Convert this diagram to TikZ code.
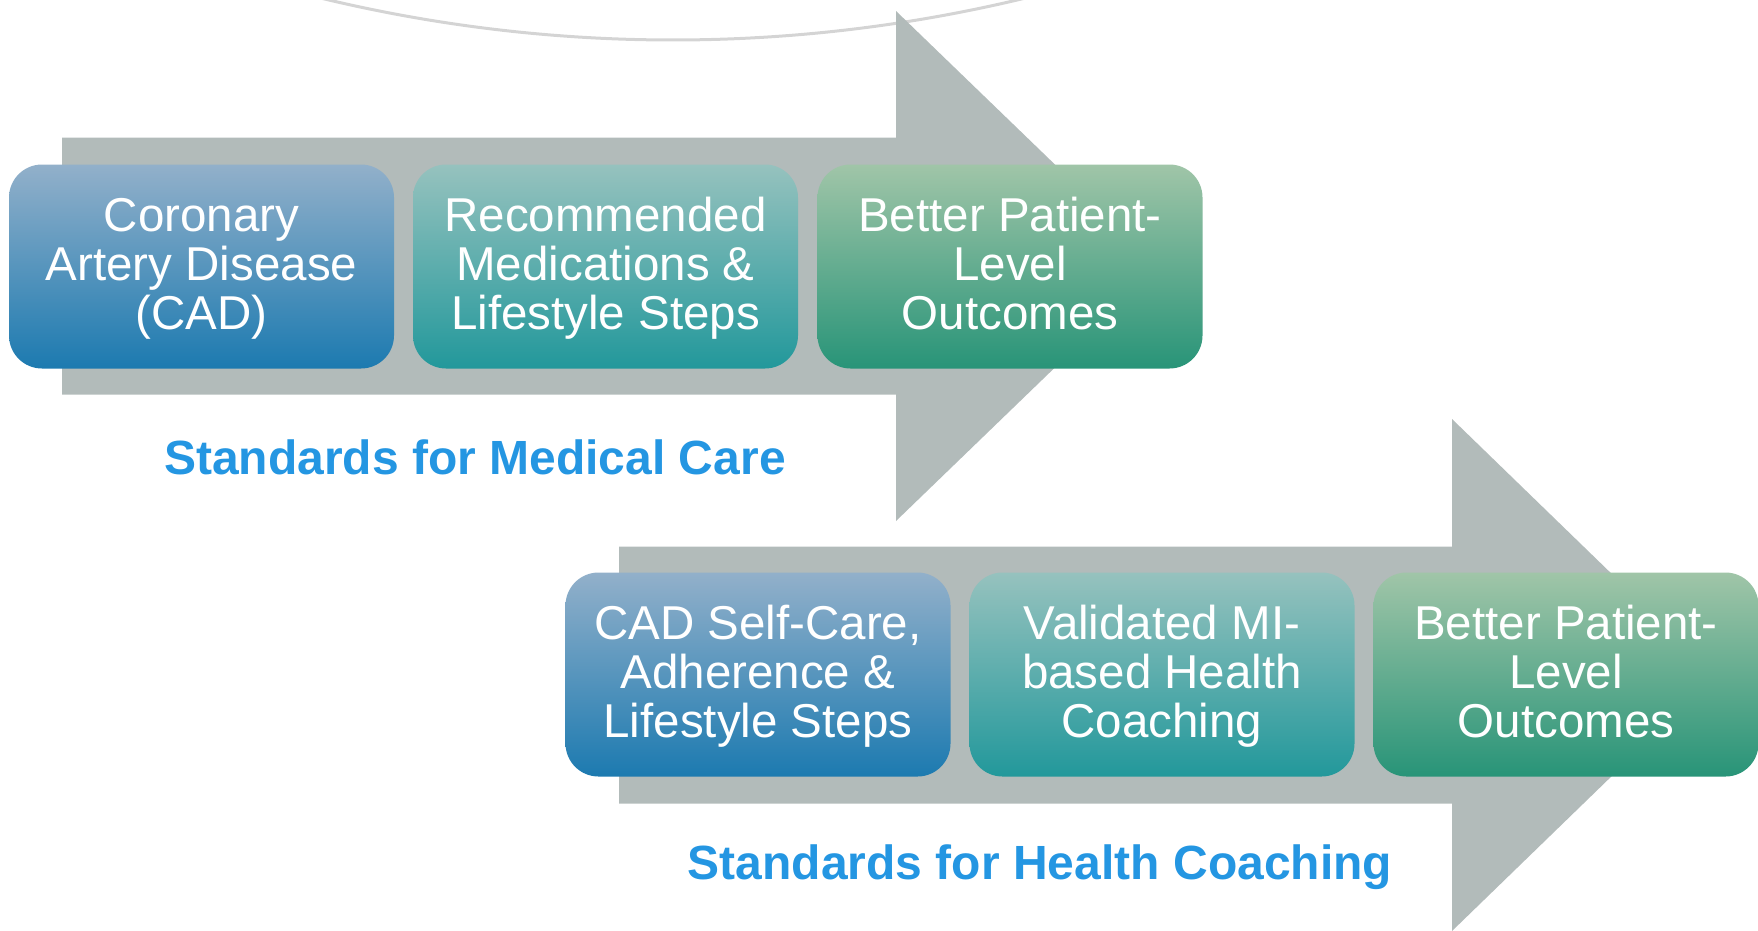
\documentclass[tikz,border=0pt]{standalone}
\usepackage{fontspec}
\setmainfont{Liberation Sans}

\definecolor{bandgray}{RGB}{178,187,186}
\definecolor{arcgray}{RGB}{212,212,212}
\definecolor{stdblue}{RGB}{36,150,226}
\definecolor{bluetop}{RGB}{146,176,202}
\definecolor{bluebot}{RGB}{28,122,176}
\definecolor{tealtop}{RGB}{150,194,190}
\definecolor{tealbot}{RGB}{34,152,155}
\definecolor{greentop}{RGB}{160,197,168}
\definecolor{greenbot}{RGB}{40,148,120}

% equal top and bottom for every three-line card
\newcommand{\sr}{\rule[-11pt]{0pt}{49pt}}

\begin{document}
\begin{tikzpicture}[x=1pt, y=-1pt,
		card/.style = {rectangle, rounded corners=33pt, minimum width=385pt, minimum height=204pt, inner sep=0pt, text=white, align=center, font=\fontsize{47.5}{49}\selectfont},
		b/.style = {card, top color=bluetop, bottom color=bluebot},
		t/.style = {card, top color=tealtop, bottom color=tealbot},
		g/.style = {card, top color=greentop, bottom color=greenbot},
		std/.style = {anchor=base, text=stdblue, font=\fontsize{48}{50}\selectfont\bfseries},
		band/.style = {fill=bandgray},
		]
		\useasboundingbox (0,0) rectangle (1758,930);
		
		%Arc
		\draw[arcgray, line width=3pt] (673,-1460) ++(65:1500) arc[start angle=65, end angle=115, radius=1500];
		
		%Arrows
		\fill[band]	(62,137.5) -- (896,137.5) -- (896,11) -- (1160,266) -- (896,521) -- (896,394.5) -- (62,394.5) -- cycle;
		\fill[band]	(619,546.5) -- (1452,546.5) -- (1452,419) -- (1716,675) -- (1452,931) -- (1452,803.5) -- (619,803.5) -- cycle;
		
		%Nodes
		\node[b]	(cad)	at	(201.5, 266.5)	{\sr Coronary\\Artery Disease\\(CAD)\sr};
		\node[t]	(meds)	at	(605.5, 266.5)	{\sr Recommended\\Medications \&\\Lifestyle Steps\sr};
		\node[g]	(out1)	at	(1010, 266.5)	{\sr Better Patient-\\Level\\Outcomes\sr};
		\node[b]	(self)	at	(758, 674.5)	{\sr CAD Self-Care,\\Adherence \&\\Lifestyle Steps\sr};
		\node[t]	(coach)	at	(1162, 674.5)	{\sr Validated MI-\\based Health\\Coaching\sr};
		\node[g]	(out2)	at	(1566, 674.5)	{\sr Better Patient-\\Level\\Outcomes\sr};
		
		%Labels
		\node[std]	(std1)	at	(475, 474)	{Standards for Medical Care};
		\node[std]	(std2)	at	(1040, 879)	{Standards for Health Coaching};
	\end{tikzpicture}
\end{document}
